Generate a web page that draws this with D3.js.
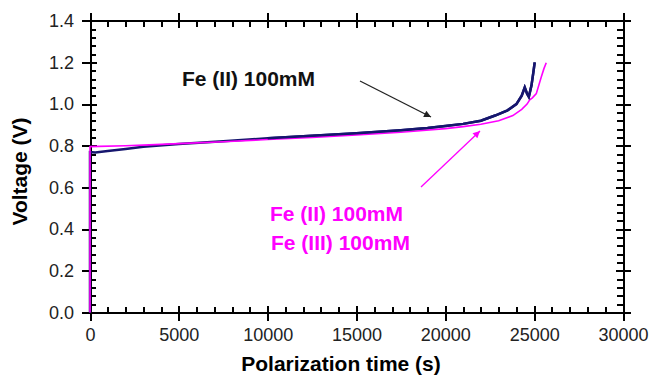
<!DOCTYPE html>
<html>
<head>
<meta charset="utf-8">
<script src="https://cdn.jsdelivr.net/npm/d3@7"></script>
<style>
  body { margin: 0; background: #fff; }
  svg { display: block; font-family: "Liberation Sans", Arial, Helvetica, sans-serif; }
  .axis path, .axis line { stroke: #000; stroke-width: 2; shape-rendering: crispEdges; }
  .axis text { font-size: 18px; fill: #222; }
  .lbl { font-weight: bold; font-size: 21px; }
</style>
</head>
<body>
<div id="chart"></div>
<script>
// Fe(II) 100mM only (navy), time in s, voltage in V
var fe2Time = [0, 0, 300, 1000, 2000, 3000, 5000, 7500, 10000, 12500, 15000, 17500, 19000, 20000, 21000, 22000, 22800, 23500, 24000, 24300, 24470, 24600, 24700, 24850, 24950, 25030];
var fe2Volt = [0, 0.77, 0.768, 0.775, 0.785, 0.795, 0.808, 0.822, 0.836, 0.848, 0.86, 0.874, 0.885, 0.895, 0.905, 0.92, 0.945, 0.97, 1.0, 1.04, 1.08, 1.05, 1.035, 1.09, 1.15, 1.20];

// Fe(II) 100mM + Fe(III) 100mM (magenta)
var fe23Time = [0, 0, 500, 2000, 3000, 5000, 7500, 10000, 12500, 15000, 17500, 20000, 21000, 22000, 23000, 23800, 24300, 24600, 24750, 24900, 25120, 25400, 25550, 25680];
var fe23Volt = [0, 0.796, 0.797, 0.8, 0.803, 0.81, 0.819, 0.83, 0.84, 0.852, 0.865, 0.882, 0.892, 0.903, 0.92, 0.945, 0.975, 1.0, 1.02, 1.03, 1.05, 1.13, 1.17, 1.198];

var xMajor = [0, 5000, 10000, 15000, 20000, 25000, 30000];
var xMinor = d3.range(0, 30001, 1000);
var yMajor = [0, 0.2, 0.4, 0.6, 0.8, 1.0, 1.2, 1.4];
var yMinor = d3.range(0, 36).map(function(i){ return i * 0.04; });

var width = 654, height = 378;
var svg = d3.select("#chart").append("svg")
    .attr("width", width)
    .attr("height", height);

var x = d3.scaleLinear().domain([0, 30000]).range([90, 623]);
var y = d3.scaleLinear().domain([0, 1.4]).range([312.5, 20.7]);

// axes: major ticks go both ways, minor ticks point inside
function drawAxis(gen, scale, tr, major, minor, labels){
    var g = svg.append("g").attr("class", "axis").attr("transform", tr);
    g.call(gen(scale).tickValues(minor).tickSize(-6).tickSizeOuter(0).tickFormat(""));
    g.append("g")
        .call(gen(scale).tickValues(major).tickSize(-7).tickSizeOuter(0).tickFormat(""))
        .select(".domain").remove();
    var outer = gen(scale).tickValues(major).tickSize(8).tickSizeOuter(0).tickPadding(labels ? 8 : 0);
    if (labels) outer.tickFormat(labels); else outer.tickFormat("");
    g.append("g").call(outer).select(".domain").remove();
    return g;
}

drawAxis(d3.axisBottom, x, "translate(0,312.5)", xMajor, xMinor, d3.format("d"));
drawAxis(d3.axisTop, x, "translate(0,20.7)", xMajor, xMinor, null);
drawAxis(d3.axisLeft, y, "translate(90,0)", yMajor, yMinor, d3.format(".1f"));
drawAxis(d3.axisRight, y, "translate(623,0)", yMajor, yMinor, null);

// series (drawn over the axes so the t=0 rise shows)
var line = d3.line()
    .x(function(d){ return x(d[0]); })
    .y(function(d){ return y(d[1]); });

var fe23 = fe23Time.map(function(t, i){ return [t, fe23Volt[i]]; });
var fe2 = fe2Time.map(function(t, i){ return [t, fe2Volt[i]]; });

svg.append("path")
    .datum(fe2)
    .attr("d", line)
    .attr("fill", "none")
    .attr("stroke", "#16166e")
    .attr("stroke-width", 2.5);

svg.append("path")
    .datum(fe23)
    .attr("d", line)
    .attr("fill", "none")
    .attr("stroke", "#ff00ff")
    .attr("stroke-width", 1.6);

// navy redrawn above magenta for the region where it sits on top
svg.append("path")
    .datum(fe2.slice(8))
    .attr("d", line)
    .attr("fill", "none")
    .attr("stroke", "#16166e")
    .attr("stroke-width", 2.5);

// axis titles
svg.append("text")
    .attr("class", "lbl")
    .attr("x", 341)
    .attr("y", 371)
    .attr("text-anchor", "middle")
    .text("Polarization time (s)");

svg.append("text")
    .attr("class", "lbl")
    .attr("transform", "translate(27,171.5) rotate(-90)")
    .attr("text-anchor", "middle")
    .text("Voltage (V)");

// annotations
svg.append("defs").selectAll("marker")
    .data([["head-black", "#222"], ["head-pink", "#ff00ff"]])
    .enter().append("marker")
    .attr("id", function(d){ return d[0]; })
    .attr("viewBox", "0 0 10 10")
    .attr("refX", 10).attr("refY", 5)
    .attr("markerWidth", 9).attr("markerHeight", 7)
    .attr("markerUnits", "userSpaceOnUse")
    .attr("orient", "auto")
    .append("path")
    .attr("d", "M0,0L10,5L0,10z")
    .attr("fill", function(d){ return d[1]; });

svg.append("line")
    .attr("x1", 360).attr("y1", 81)
    .attr("x2", 431).attr("y2", 117)
    .attr("stroke", "#222").attr("stroke-width", 1.3)
    .attr("marker-end", "url(#head-black)");

svg.append("line")
    .attr("x1", 421).attr("y1", 187)
    .attr("x2", 480).attr("y2", 131)
    .attr("stroke", "#ff00ff").attr("stroke-width", 1.3)
    .attr("marker-end", "url(#head-pink)");

svg.append("text")
    .attr("class", "lbl")
    .attr("x", 182).attr("y", 85.5)
    .attr("fill", "#111")
    .text("Fe (II) 100mM");

svg.append("text")
    .attr("class", "lbl")
    .attr("x", 270).attr("y", 221)
    .attr("fill", "#ff00ff")
    .text("Fe (II) 100mM");

svg.append("text")
    .attr("class", "lbl")
    .attr("x", 271).attr("y", 249.5)
    .attr("fill", "#ff00ff")
    .text("Fe (III) 100mM");
</script>
</body>
</html>
